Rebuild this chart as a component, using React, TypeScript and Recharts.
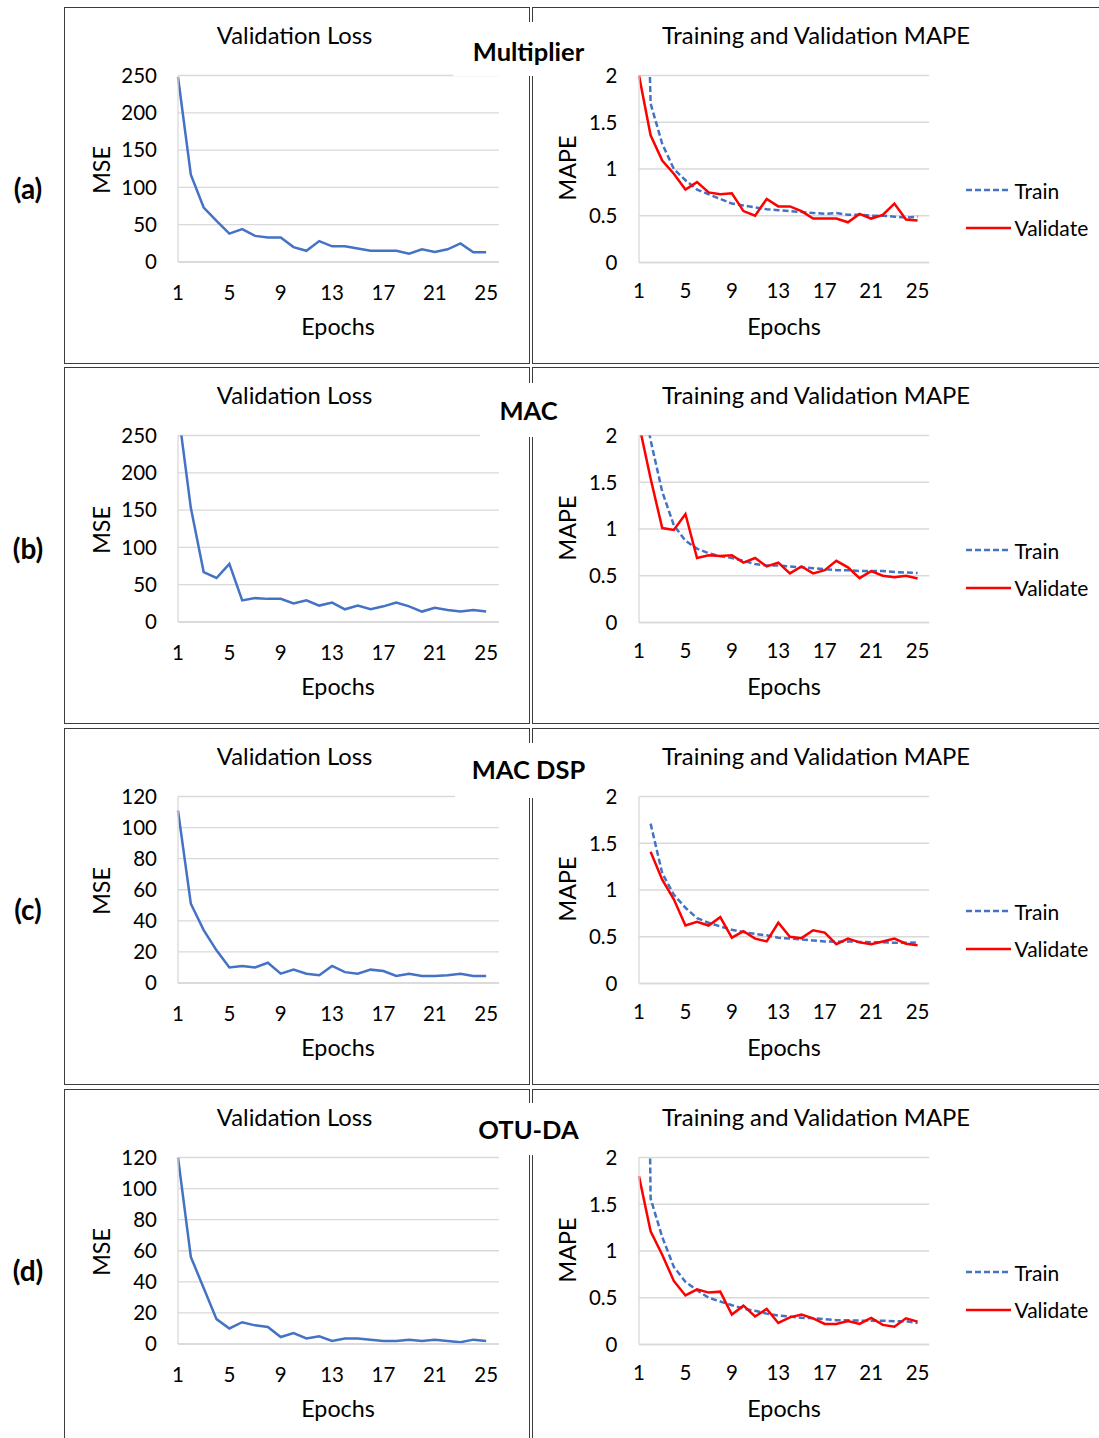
import React from 'react';
import { LineChart, Line, XAxis, YAxis, CartesianGrid, Legend } from 'recharts';

// ---------- data ----------
const epochs = [1, 2, 3, 4, 5, 6, 7, 8, 9, 10, 11, 12, 13, 14, 15, 16, 17, 18, 19, 20, 21, 22, 23, 24, 25, 26];
const epochTicks = [1, 5, 9, 13, 17, 21, 25];
const mseTicksWide = [0, 50, 100, 150, 200, 250];
const mseTicksNarrow = [0, 20, 40, 60, 80, 100, 120];
const mapeTicks = [0, 0.5, 1, 1.5, 2];
const rowLetters = ['(a)', '(b)', '(c)', '(d)'];
const designNames = ['Multiplier', 'MAC', 'MAC DSP', 'OTU-DA'];
const seriesNames = ['Train', 'Validate'];

const mseMultiplier = [248, 117, 73, 55, 38, 44, 35, 33, 33, 20, 15, 28, 21, 21, 18, 15, 15, 15, 11, 17, 13.5, 17, 25, 13, 13];
const mseMac = [285, 153, 67, 59, 78, 29, 32, 31, 31, 25, 29, 22, 26, 17, 22, 17, 21, 26, 21, 14, 19, 16, 14, 16, 14];
const mseMacDsp = [111, 51, 34, 21, 10, 11, 10, 13, 6, 8.6, 6, 5, 11, 7, 6, 8.6, 7.7, 4.5, 6, 4.5, 4.5, 5, 6, 4.5, 4.5];
const mseOtuDa = [120, 56, 36, 16, 10, 14, 12, 11, 4.5, 7, 3.6, 5, 2, 3.6, 3.6, 2.8, 1.9, 1.9, 2.8, 1.9, 2.8, 1.9, 1.1, 2.8, 1.9];

const trainMultiplier = [6.7, 1.7, 1.27, 1.0, 0.88, 0.78, 0.73, 0.68, 0.63, 0.61, 0.59, 0.57, 0.56, 0.55, 0.54, 0.53, 0.52, 0.53, 0.51, 0.51, 0.5, 0.5, 0.49, 0.48, 0.49];
const valMultiplier = [2.0, 1.36, 1.09, 0.95, 0.78, 0.86, 0.75, 0.73, 0.74, 0.55, 0.5, 0.68, 0.6, 0.6, 0.55, 0.47, 0.47, 0.47, 0.43, 0.52, 0.47, 0.51, 0.63, 0.46, 0.45];
const trainMac = [2.6, 1.95, 1.4, 1.04, 0.875, 0.79, 0.74, 0.71, 0.69, 0.66, 0.625, 0.61, 0.61, 0.6, 0.59, 0.58, 0.57, 0.56, 0.56, 0.55, 0.55, 0.55, 0.54, 0.535, 0.53];
const valMac = [2.12, 1.54, 1.01, 0.99, 1.16, 0.69, 0.72, 0.71, 0.72, 0.64, 0.69, 0.6, 0.64, 0.525, 0.6, 0.525, 0.56, 0.66, 0.59, 0.475, 0.55, 0.5, 0.485, 0.5, 0.47];
const trainMacDsp = [null, 1.71, 1.18, 0.95, 0.81, 0.7, 0.65, 0.61, 0.575, 0.55, 0.53, 0.515, 0.49, 0.48, 0.47, 0.46, 0.45, 0.445, 0.45, 0.445, 0.44, 0.44, 0.435, 0.435, 0.44];
const valMacDsp = [null, 1.41, 1.11, 0.9, 0.62, 0.66, 0.62, 0.71, 0.49, 0.56, 0.48, 0.45, 0.65, 0.5, 0.485, 0.57, 0.545, 0.42, 0.48, 0.44, 0.42, 0.45, 0.48, 0.425, 0.41];
const trainOtuDa = [12, 1.56, 1.15, 0.83, 0.67, 0.58, 0.5, 0.46, 0.42, 0.385, 0.36, 0.33, 0.31, 0.3, 0.285, 0.28, 0.27, 0.26, 0.26, 0.255, 0.255, 0.255, 0.25, 0.25, 0.23];
const valOtuDa = [1.8, 1.21, 0.96, 0.68, 0.525, 0.59, 0.555, 0.565, 0.32, 0.415, 0.3, 0.38, 0.23, 0.29, 0.32, 0.28, 0.22, 0.22, 0.25, 0.22, 0.285, 0.21, 0.19, 0.28, 0.245];

const mseSets = [mseMultiplier, mseMac, mseMacDsp, mseOtuDa];
const mseTickSets = [mseTicksWide, mseTicksWide, mseTicksNarrow, mseTicksNarrow];
const trainSets = [trainMultiplier, trainMac, trainMacDsp, trainOtuDa];
const valSets = [valMultiplier, valMac, valMacDsp, valOtuDa];

// ---------- layout / style ----------
const FONT = 'Lato, "Noto Sans", sans-serif';
const ROW_TOPS = [7, 367, 728, 1089];
const NAME_CENTER_Y = [52, 411, 770, 1130];
const NAME_BOXES = [
  { x: 453, y: 22, w: 151, h: 54 },
  { x: 480, y: 383, w: 96, h: 54 },
  { x: 455, y: 743, w: 146, h: 55 },
  { x: 483, y: 1103, w: 90, h: 52 },
];
const BLUE = '#4472C4';
const RED = '#FF0000';
const GRID = '#d9d9d9';
const TICK_FONT = 20.5;
const TITLE_FONT = 23.8;
const AXIS_TITLE_FONT = 23.3;
const LEGEND_FONT = 21;
const LEGEND_STYLES = [
  { color: BLUE, dash: '6 3' },
  { color: RED, dash: undefined },
];

const buildData = (vals: (number | null)[]) =>
  epochs.map((e, i) => ({ epoch: e, v: vals[i] === undefined ? null : vals[i] }));

const buildMape = (train: (number | null)[], val: (number | null)[]) =>
  epochs.map((e, i) => ({
    epoch: e,
    train: train[i] === undefined ? null : train[i],
    validate: val[i] === undefined ? null : val[i],
  }));

const renderLegend = () => (
  <div style={{ position: 'relative', width: 130, height: 70, fontFamily: FONT }}>
    {seriesNames.map((name, i) => (
      <div
        key={name}
        style={{
          position: 'absolute',
          left: 0,
          top: i * 37.5,
          height: 26,
          display: 'flex',
          alignItems: 'center',
          whiteSpace: 'nowrap',
        }}
      >
        <svg width={46} height={8} style={{ display: 'block' }}>
          <line x1={0} y1={4} x2={45} y2={4} stroke={LEGEND_STYLES[i].color} strokeWidth={2.5} strokeDasharray={LEGEND_STYLES[i].dash} />
        </svg>
        <span style={{ marginLeft: 3, fontSize: LEGEND_FONT, color: '#000' }}>{name}</span>
      </div>
    ))}
  </div>
);

const abs = (x: number, y: number, extra: React.CSSProperties = {}): React.CSSProperties => ({
  position: 'absolute',
  left: x,
  top: y,
  ...extra,
});

const centered = (x: number, y: number, extra: React.CSSProperties = {}): React.CSSProperties => ({
  position: 'absolute',
  left: x,
  top: y,
  transform: 'translate(-50%, -50%)',
  whiteSpace: 'nowrap',
  lineHeight: 1,
  ...extra,
});

const Row = ({ idx }: { idx: number }) => {
  const T = ROW_TOPS[idx];
  const mseTicks = mseTickSets[idx];
  const mseData = buildData(mseSets[idx]);
  const mapeData = buildMape(trainSets[idx], valSets[idx]);
  const last = idx === ROW_TOPS.length - 1;
  const panelH = last ? 1438 - T + 4 : 357;
  return (
    <>
      {/* panels */}
      <div
        style={abs(64, T, {
          width: 466,
          height: panelH,
          boxSizing: 'border-box',
          border: '1.5px solid #3c3c3c',
          borderBottom: last ? 'none' : '1.5px solid #3c3c3c',
        })}
      />
      <div
        style={abs(531.5, T, {
          width: 570,
          height: panelH,
          boxSizing: 'border-box',
          borderTop: '1.5px solid #3c3c3c',
          borderLeft: '1.5px solid #3c3c3c',
          borderBottom: last ? 'none' : '1.5px solid #3c3c3c',
        })}
      />

      {/* MSE chart */}
      <div style={abs(65, T)}>
        <LineChart width={464} height={356} data={mseData} margin={{ top: 68.5, right: 30, bottom: 0, left: 0 }}>
          <CartesianGrid vertical={false} stroke={GRID} strokeWidth={1.3} />
          <XAxis
            type="number"
            dataKey="epoch"
            domain={[1, 26]}
            ticks={epochTicks}
            height={101}
            tickLine={false}
            tickSize={0}
            tickMargin={23.5}
            axisLine={{ stroke: GRID, strokeWidth: 1.3 }}
            tick={{ fontSize: TICK_FONT, fill: '#000' }}
            interval={0}
          />
          <YAxis
            type="number"
            domain={[0, mseTicks[mseTicks.length - 1]]}
            ticks={mseTicks}
            allowDataOverflow
            width={113}
            tickLine={false}
            tickSize={0}
            tickMargin={21}
            axisLine={{ stroke: GRID, strokeWidth: 1.3 }}
            tick={{ fontSize: TICK_FONT, fill: '#000' }}
            interval={0}
          />
          <Line type="linear" dataKey="v" stroke={BLUE} strokeWidth={2.5} dot={false} isAnimationActive={false} connectNulls={false} />
        </LineChart>
      </div>

      {/* MAPE chart */}
      <div style={abs(532, T)}>
        <LineChart width={567} height={356} data={mapeData} margin={{ top: 68.5, right: 169.8, bottom: 0, left: 0 }}>
          <CartesianGrid vertical={false} stroke={GRID} strokeWidth={1.3} />
          <XAxis
            type="number"
            dataKey="epoch"
            domain={[1, 26]}
            ticks={epochTicks}
            height={100.5}
            tickLine={false}
            tickSize={0}
            tickMargin={21}
            axisLine={{ stroke: GRID, strokeWidth: 1.3 }}
            tick={{ fontSize: TICK_FONT, fill: '#000' }}
            interval={0}
          />
          <YAxis
            type="number"
            domain={[0, 2]}
            ticks={mapeTicks}
            allowDataOverflow
            width={107}
            tickLine={false}
            tickSize={0}
            tickMargin={21.5}
            axisLine={{ stroke: GRID, strokeWidth: 1.3 }}
            tick={{ fontSize: TICK_FONT, fill: '#000' }}
            interval={0}
          />
          <Legend
            layout="vertical"
            align="center"
            verticalAlign="middle"
            content={renderLegend}
            wrapperStyle={{ left: 433.5, top: 170, width: 130, height: 70 }}
          />
          <Line type="linear" dataKey="train" name={seriesNames[0]} stroke={BLUE} strokeWidth={2.5} strokeDasharray="6 3" dot={false} isAnimationActive={false} />
          <Line type="linear" dataKey="validate" name={seriesNames[1]} stroke={RED} strokeWidth={2.5} dot={false} isAnimationActive={false} />
        </LineChart>
      </div>

      {/* chart titles and axis titles */}
      <div style={centered(294.6, T + 29, { fontSize: TITLE_FONT })}>Validation Loss</div>
      <div style={centered(816, T + 29, { fontSize: TITLE_FONT })}>Training and Validation MAPE</div>
      <div style={centered(101.7, T + 163, { fontSize: AXIS_TITLE_FONT, transform: 'translate(-50%, -50%) rotate(-90deg)' })}>MSE</div>
      <div style={centered(568, T + 161, { fontSize: AXIS_TITLE_FONT, transform: 'translate(-50%, -50%) rotate(-90deg)' })}>MAPE</div>
      <div style={centered(338, T + 320, { fontSize: AXIS_TITLE_FONT })}>Epochs</div>
      <div style={centered(784, T + 320, { fontSize: AXIS_TITLE_FONT })}>Epochs</div>

      {/* row letter */}
      <div style={centered(28, T + 181, { fontSize: 28, fontWeight: 700 })}>{rowLetters[idx]}</div>

      {/* design name box */}
      <div style={abs(NAME_BOXES[idx].x, NAME_BOXES[idx].y, { width: NAME_BOXES[idx].w, height: NAME_BOXES[idx].h, background: '#fff' })} />
      <div style={centered(528.5, NAME_CENTER_Y[idx], { fontSize: 25.5, fontWeight: 700 })}>{designNames[idx]}</div>
    </>
  );
};

export default function App() {
  return (
    <div
      style={{
        position: 'absolute',
        left: 0,
        top: 0,
        width: 1099,
        height: 1438,
        overflow: 'hidden',
        background: '#fff',
        fontFamily: FONT,
        color: '#000',
      }}
    >
      {ROW_TOPS.map((_, i) => (
        <Row key={i} idx={i} />
      ))}
    </div>
  );
}
